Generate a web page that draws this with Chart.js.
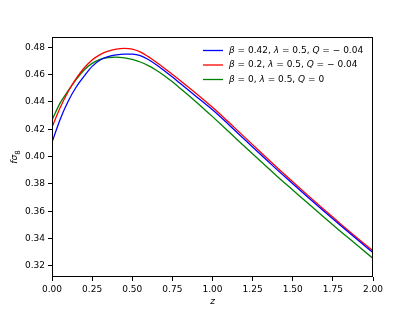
<!DOCTYPE html>
<html>
<head>
<meta charset="utf-8">
<script src="https://cdn.jsdelivr.net/npm/chart.js@4.4.1/dist/chart.umd.min.js"></script>
<style>
html,body{margin:0;padding:0;background:#fff;}
#wrap{width:415px;height:312px;position:relative;}
</style>
</head>
<body>
<div id="wrap"><canvas id="c" width="415" height="312"></canvas></div>
<script>
// ---- data ----
const zValues = [0.00,0.05,0.10,0.15,0.20,0.25,0.30,0.35,0.40,0.45,0.50,0.55,0.60,0.65,0.70,0.75,0.80,
                 0.90,1.00,1.10,1.20,1.30,1.40,1.50,1.60,1.70,1.80,1.90,2.00];
const fs8Blue  = [0.4104,0.4270,0.4403,0.4507,0.4588,0.4660,0.4707,0.4731,0.4744,0.4750,0.4749,0.4738,0.4710,0.4672,0.4628,0.4582,0.4534,
                  0.4438,0.4342,0.4235,0.4125,0.4015,0.3906,0.3800,0.3696,0.3594,0.3493,0.3394,0.3297];
const fs8Red   = [0.4215,0.4355,0.4474,0.4570,0.4648,0.4707,0.4746,0.4772,0.4786,0.4792,0.4787,0.4766,0.4731,0.4690,0.4647,0.4601,0.4555,
                  0.4460,0.4360,0.4252,0.4142,0.4032,0.3922,0.3815,0.3710,0.3607,0.3505,0.3406,0.3309];
const fs8Green = [0.4266,0.4391,0.4480,0.4563,0.4634,0.4682,0.4712,0.4725,0.4727,0.4722,0.4711,0.4692,0.4665,0.4632,0.4592,0.4547,0.4498,
                  0.4398,0.4292,0.4183,0.4073,0.3965,0.3858,0.3755,0.3652,0.3550,0.3450,0.3352,0.3254];
const seriesLabels = ["β = 0.42, λ = 0.5, Q = − 0.04", "β = 0.2, λ = 0.5, Q = − 0.04", "β = 0, λ = 0.5, Q = 0"];
const seriesColors = ["#0000ff", "#ff0000", "#008000"];
const xTicks = [0.00,0.25,0.50,0.75,1.00,1.25,1.50,1.75,2.00];
const yTicks = [0.32,0.34,0.36,0.38,0.40,0.42,0.44,0.46,0.48];
const xTitle = "z";
const yTitle = ["f", "σ", "8"];

const FONT = "'DejaVu Sans', sans-serif";
const seriesValues = [fs8Blue, fs8Red, fs8Green];

const datasets = seriesValues.map((vals, i) => ({
  label: seriesLabels[i],
  data: zValues.map((z, k) => ({x: z, y: vals[k]})),
  borderColor: seriesColors[i],
  backgroundColor: seriesColors[i],
  borderWidth: 1.3,
  pointRadius: 0,
  cubicInterpolationMode: 'monotone',
  fill: false
}));

function drawMathText(ctx, text, x, y, size) {
  let cx = x;
  for (const ch of text) {
    const italic = /[A-Za-zα-ωΑ-Ω]/.test(ch);
    ctx.font = (italic ? "italic " : "") + size + "px " + FONT;
    ctx.fillText(ch, cx, y);
    cx += ctx.measureText(ch).width;
  }
  return cx - x;
}

const framePlugin = {
  id: 'frame',
  afterDraw(chart) {
    const ctx = chart.ctx;
    const a = chart.chartArea;
    ctx.save();
    ctx.strokeStyle = '#000';
    ctx.lineWidth = 1;
    ctx.strokeRect(Math.round(a.left) + 0.5, Math.round(a.top) + 0.5, Math.round(a.right - a.left) - 1, Math.round(a.bottom - a.top) - 1);

    // x title
    ctx.fillStyle = '#000';
    ctx.textBaseline = 'middle';
    ctx.textAlign = 'center';
    ctx.font = "italic 9px " + FONT;
    ctx.fillText(xTitle, (a.left + a.right) / 2, 302);

    // y title, rotated
    ctx.save();
    ctx.translate(15, (a.top + a.bottom) / 2);
    ctx.rotate(-Math.PI / 2);
    ctx.textAlign = 'left';
    ctx.font = "italic 9px " + FONT;
    const w1 = ctx.measureText(yTitle[0] + yTitle[1]).width;
    ctx.font = "7px " + FONT;
    const w2 = ctx.measureText(yTitle[2]).width;
    let sx = -(w1 + w2) / 2;
    ctx.font = "italic 9px " + FONT;
    ctx.fillText(yTitle[0] + yTitle[1], sx, 0);
    ctx.font = "7px " + FONT;
    ctx.fillText(yTitle[2], sx + w1, 3);
    ctx.restore();

    // legend
    const lx0 = 203, lx1 = 223, tx = 229;
    const rows = [50.5, 65, 79.5];
    ctx.textAlign = 'left';
    ctx.textBaseline = 'middle';
    seriesLabels.forEach((lab, i) => {
      ctx.strokeStyle = seriesColors[i];
      ctx.lineWidth = 1.3;
      ctx.beginPath();
      ctx.moveTo(lx0, rows[i]);
      ctx.lineTo(lx1, rows[i]);
      ctx.stroke();
      ctx.fillStyle = '#000';
      drawMathText(ctx, lab, tx, rows[i], 9);
    });
    ctx.restore();
  }
};

new Chart(document.getElementById('c'), {
  type: 'line',
  data: { datasets },
  options: {
    responsive: false,
    animation: false,
    devicePixelRatio: 1,
    layout: { padding: { left: 0, right: 42, top: 37, bottom: 0 } },
    plugins: { legend: { display: false }, tooltip: { enabled: false } },
    scales: {
      x: {
        type: 'linear',
        min: 0, max: 2,
        afterBuildTicks: s => { s.ticks = xTicks.map(v => ({value: v})); },
        afterFit: s => { s.height = 35; },
        grid: { display: true, drawOnChartArea: false, drawTicks: true, tickLength: 4, color: '#000' },
        border: { display: false },
        ticks: { color: '#000', font: { family: FONT, size: 9 }, padding: 3, maxRotation: 0, autoSkip: false,
                 callback: v => Number(v).toFixed(2) }
      },
      y: {
        type: 'linear',
        min: 0.3118, max: 0.4875,
        afterBuildTicks: s => { s.ticks = yTicks.map(v => ({value: v})); },
        afterFit: s => { s.width = 52; },
        grid: { display: true, drawOnChartArea: false, drawTicks: true, tickLength: 4, color: '#000' },
        border: { display: false },
        ticks: { color: '#000', font: { family: FONT, size: 9 }, padding: 3, autoSkip: false,
                 callback: v => Number(v).toFixed(2) }
      }
    }
  },
  plugins: [framePlugin]
});
</script>
</body>
</html>
